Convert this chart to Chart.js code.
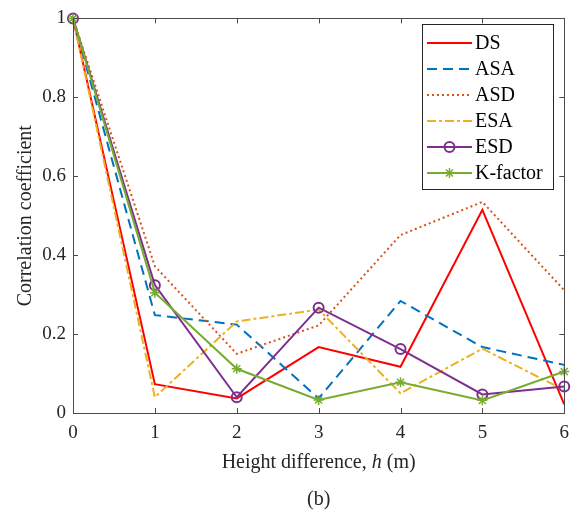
<!DOCTYPE html>
<html>
<head>
<meta charset="utf-8">
<script src="https://cdn.jsdelivr.net/npm/chart.js@4/dist/chart.umd.min.js"></script>
<style>
  html, body { margin: 0; padding: 0; background: #fff; }
  #wrap { width: 578px; height: 516px; }
</style>
</head>
<body>
<div id="wrap"><canvas id="corrChart" width="578" height="516"></canvas></div>
<script>
// height difference h (m)
const heights = [0, 1, 2, 3, 4, 5, 6];
const yTicks = [0, 0.2, 0.4, 0.6, 0.8, 1];

// correlation coefficient per parameter
const dsVals  = [1, 0.073, 0.037, 0.167, 0.117, 0.515, 0.022];
const asaVals = [1, 0.248, 0.224, 0.037, 0.284, 0.167, 0.122];
const asdVals = [1, 0.372, 0.150, 0.222, 0.451, 0.535, 0.311];
const esaVals = [1, 0.040, 0.232, 0.262, 0.050, 0.163, 0.058];
const esdVals = [1, 0.324, 0.040, 0.267, 0.162, 0.047, 0.067];
const kVals   = [1, 0.305, 0.112, 0.033, 0.078, 0.032, 0.105];

const serif = "'Liberation Serif', 'Times New Roman', serif";
const axisColor = '#4a4a4a';
const textColor = '#262626';

function toPoints(vals) {
    return heights.map((h, i) => ({ x: h, y: vals[i] }));
}

function series(label, vals, color, dash, marker, order) {
    return {
        label: label,
        data: toPoints(vals),
        borderColor: color,
        backgroundColor: color,
        borderWidth: 2,
        borderDash: dash,
        pointStyle: marker || 'circle',
        pointRadius: marker ? 5 : 0,
        pointBorderWidth: marker === 'star' ? 1.5 : 2,
        pointBackgroundColor: 'rgba(0,0,0,0)',
        pointHoverRadius: 0,
        tension: 0,
        clip: 8,
        order: order
    };
}

// box, inward ticks, legend and text labels drawn like a MATLAB axes
const matlabAxes = {
    id: 'matlabAxes',
    afterDraw(chart) {
        const ctx = chart.ctx;
        const area = chart.chartArea;
        const xs = chart.scales.x;
        const ys = chart.scales.y;
        const tick = 5;

        ctx.save();
        ctx.strokeStyle = axisColor;
        ctx.lineWidth = 1;
        ctx.strokeRect(Math.round(area.left) + 0.5, Math.round(area.top) + 0.5,
            Math.round(area.right - area.left), Math.round(area.bottom - area.top));

        ctx.beginPath();
        heights.forEach(h => {
            const px = Math.round(xs.getPixelForValue(h)) + 0.5;
            ctx.moveTo(px, area.bottom); ctx.lineTo(px, area.bottom - tick);
            ctx.moveTo(px, area.top); ctx.lineTo(px, area.top + tick);
        });
        yTicks.forEach(v => {
            const py = Math.round(ys.getPixelForValue(v)) + 0.5;
            ctx.moveTo(area.left, py); ctx.lineTo(area.left + tick, py);
            ctx.moveTo(area.right, py); ctx.lineTo(area.right - tick, py);
        });
        ctx.stroke();

        // x axis title with italic h
        ctx.fillStyle = textColor;
        ctx.textBaseline = 'middle';
        ctx.textAlign = 'left';
        const parts = [
            ['Height difference, ', '20px ' + serif],
            ['h', 'italic 20px ' + serif],
            [' (m)', '20px ' + serif]
        ];
        let total = 0;
        parts.forEach(p => { ctx.font = p[1]; total += ctx.measureText(p[0]).width; });
        let tx = (area.left + area.right) / 2 - total / 2;
        parts.forEach(p => {
            ctx.font = p[1];
            ctx.fillText(p[0], tx, 463);
            tx += ctx.measureText(p[0]).width;
        });

        ctx.font = '20px ' + serif;
        ctx.textAlign = 'center';
        ctx.fillText('(b)', (area.left + area.right) / 2, 500);

        // legend box
        const box = { left: 422, top: 24, width: 131, height: 165 };
        ctx.fillStyle = '#fff';
        ctx.fillRect(box.left, box.top, box.width, box.height);
        ctx.strokeStyle = '#262626';
        ctx.strokeRect(box.left + 0.5, box.top + 0.5, box.width, box.height);

        chart.data.datasets.forEach((ds, i) => {
            const y = 43 + i * 26;
            const x0 = 427, x1 = 472;
            ctx.strokeStyle = ds.borderColor;
            ctx.lineWidth = ds.borderWidth;
            ctx.setLineDash(ds.borderDash || []);
            ctx.beginPath();
            ctx.moveTo(x0, y); ctx.lineTo(x1, y);
            ctx.stroke();
            ctx.setLineDash([]);
            if (ds.pointRadius > 0) {
                const cx = (x0 + x1) / 2;
                const r = ds.pointRadius;
                ctx.lineWidth = ds.pointBorderWidth;
                ctx.beginPath();
                if (ds.pointStyle === 'circle') {
                    ctx.arc(cx, y, r, 0, Math.PI * 2);
                } else {
                    const d = r * Math.SQRT1_2;
                    ctx.moveTo(cx - r, y); ctx.lineTo(cx + r, y);
                    ctx.moveTo(cx, y - r); ctx.lineTo(cx, y + r);
                    ctx.moveTo(cx - d, y - d); ctx.lineTo(cx + d, y + d);
                    ctx.moveTo(cx - d, y + d); ctx.lineTo(cx + d, y - d);
                }
                ctx.stroke();
            }
            ctx.fillStyle = '#000';
            ctx.font = '20px ' + serif;
            ctx.textAlign = 'left';
            ctx.textBaseline = 'middle';
            ctx.fillText(ds.label, 475, y + 1);
        });
        ctx.restore();
    }
};

const ctx = document.getElementById('corrChart').getContext('2d');
new Chart(ctx, {
    type: 'line',
    data: {
        datasets: [
            series('DS', dsVals, '#FF0000', [], null, 5),
            series('ASA', asaVals, '#0072BD', [10, 6], null, 4),
            series('ASD', asdVals, '#D95319', [2, 3], null, 3),
            series('ESA', esaVals, '#EDB120', [9, 3, 3, 3], null, 2),
            series('ESD', esdVals, '#7E2F8E', [], 'circle', 1),
            series('K-factor', kVals, '#77AC30', [], 'star', 0)
        ]
    },
    options: {
        responsive: false,
        animation: false,
        events: [],
        layout: { padding: { top: 12, right: 13, left: 0, bottom: 0 } },
        plugins: {
            legend: { display: false },
            tooltip: { enabled: false }
        },
        scales: {
            x: {
                type: 'linear',
                min: 0,
                max: 6,
                afterFit: s => { s.height = 103; },
                afterBuildTicks: s => { s.ticks = heights.map(v => ({ value: v })); },
                grid: { display: false, drawTicks: false },
                border: { display: false },
                ticks: {
                    padding: 9,
                    color: textColor,
                    font: { family: serif, size: 19 },
                    maxRotation: 0
                }
            },
            y: {
                min: 0,
                max: 1,
                afterFit: s => { s.width = 73; },
                afterBuildTicks: s => { s.ticks = yTicks.map(v => ({ value: v })); },
                grid: { display: false, drawTicks: false },
                border: { display: false },
                ticks: {
                    padding: 7,
                    color: textColor,
                    font: { family: serif, size: 19 },
                    callback: v => String(v)
                },
                title: {
                    display: true,
                    text: 'Correlation coefficient',
                    color: textColor,
                    font: { family: serif, size: 20 },
                    padding: { top: 14, bottom: 0 }
                }
            }
        }
    },
    plugins: [matlabAxes]
});
</script>
</body>
</html>
